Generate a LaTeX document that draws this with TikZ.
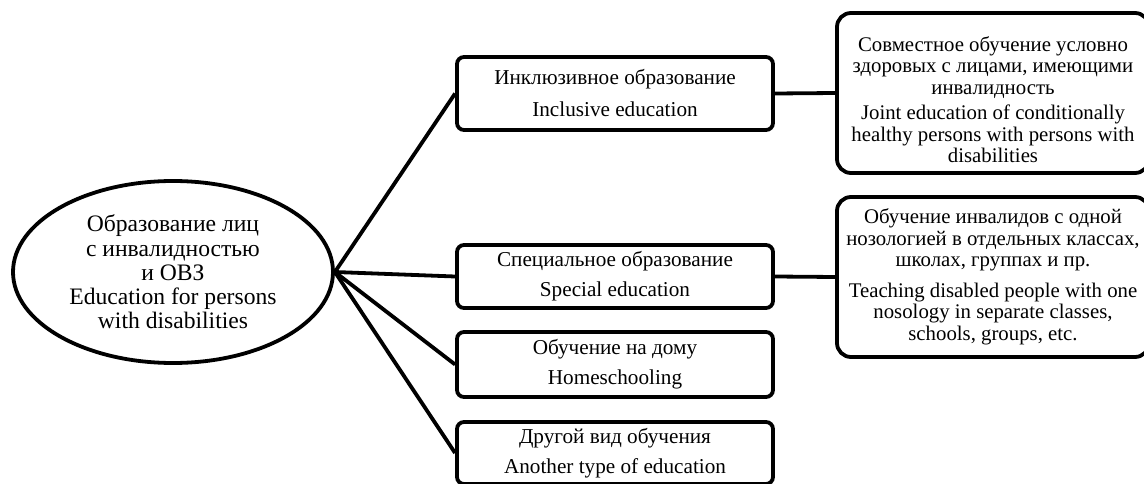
\documentclass[tikz,border=0pt]{standalone}
\usepackage{fontspec}
\setmainfont{Liberation Serif}
\usetikzlibrary{shapes.geometric}
\begin{document}
\begin{tikzpicture}[x=1pt,y=-1pt,
  line width=3.8pt,
  conn/.style={line width=3.8pt},
  leftbox/.style={draw, rounded corners=7pt, minimum width=316pt, inner sep=0pt, align=center,
    font=\fontsize{21.2}{21.5}\selectfont},
  rightbox/.style={draw, rounded corners=14pt, minimum width=312pt, minimum height=160pt, inner sep=0pt, align=center,
    font=\fontsize{20.8}{21.5}\selectfont},
  mainell/.style={draw, ellipse, minimum width=320pt, minimum height=182pt, inner sep=0pt, align=center,
    font=\fontsize{23.6}{24.2}\selectfont}
]
\useasboundingbox (0,0) rectangle (1144,484);
\node[mainell] (root) at (173,272) {Образование лиц\\с инвалидностью\\и ОВЗ\\Education for persons\\with disabilities};
\node[leftbox, minimum height=73pt] (b1) at (615,93.5) {Инклюзивное образование\\[10.5pt]Inclusive education};
\node[leftbox, minimum height=63pt] (b2) at (615,276.5) {Специальное образование\\[8.5pt]Special education};
\node[leftbox, minimum height=65pt] (b3) at (615,364.5) {Обучение на дому\\[8.5pt]Homeschooling};
\node[leftbox, minimum height=62pt] (b4) at (615,453) {Другой вид обучения\\[8.5pt]Another type of education};
\node[rightbox] (b5) at (993,93) {\rule{0pt}{28pt}Совместное обучение условно\\здоровых с лицами, имеющими\\инвалидность\\[4pt]Joint education of conditionally\\healthy persons with persons with\\disabilities};
\node[rightbox] (b6) at (993,277) {Обучение инвалидов с одной\\нозологией в отдельных классах,\\школах, группах и пр.\\[9pt]Teaching disabled people with one\\nosology in separate classes,\\schools, groups, etc.};
\draw[conn] (root.east) -- (b1.west);
\draw[conn] (root.east) -- (b2.west);
\draw[conn] (root.east) -- (b3.west);
\draw[conn] (root.east) -- (b4.west);
\draw[conn] (b1.east) -- (b5.west);
\draw[conn] (b2.east) -- (b6.west);
\end{tikzpicture}
\end{document}
